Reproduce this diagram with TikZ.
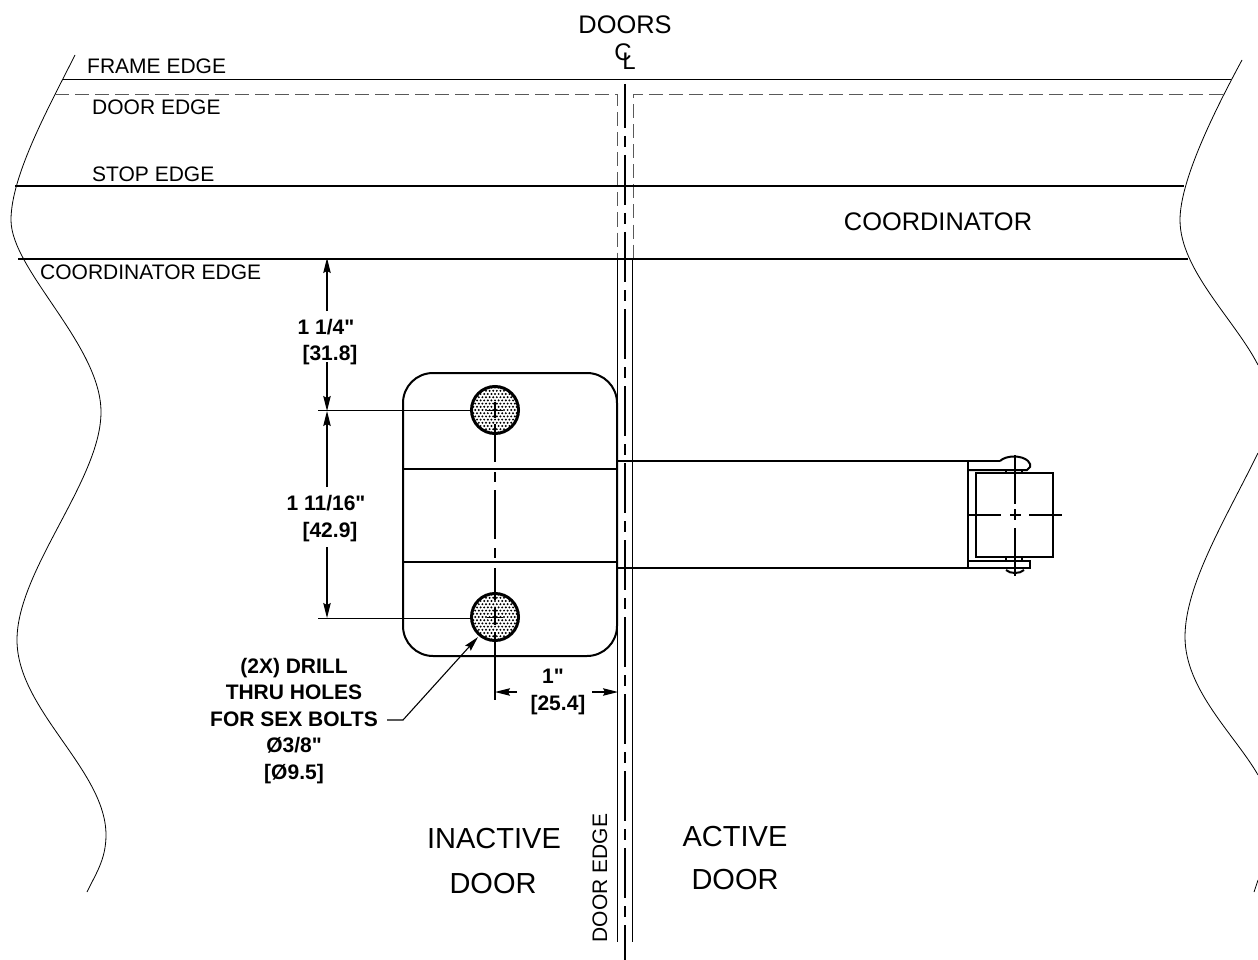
\documentclass[tikz,border=0pt]{standalone}
\usepackage{fontspec}
\setmainfont{Liberation Sans}
\font\dimf="Liberation Sans/B" at 21pt
\usetikzlibrary{arrows.meta}
\tikzset{
 x=1pt,y=-1pt,
 thin line/.style={line width=0.8pt,black},
 med line/.style={line width=1pt,black},
 thick line/.style={line width=2pt,black},
 hidden line/.style={line width=0.8pt,black!65,dash pattern=on 14pt off 6pt},
 solid edge/.style={line width=0.9pt,black},
 center line/.style={line width=1.6pt,black},
 dim line/.style={line width=1.1pt,black,-{Stealth[length=15pt,width=7.5pt,inset=2pt]}},
 lbl/.style={font=\fontsize{21}{23}\selectfont,inner sep=0pt,text=black},
 big/.style={font=\fontsize{29}{31}\selectfont,inner sep=0pt},
 med txt/.style={font=\fontsize{25.4}{27}\selectfont,inner sep=0pt},
 cl txt/.style={font=\fontsize{24}{26}\selectfont,inner sep=0pt},
 dimtxt/.style={font=\fontsize{21}{26.5}\selectfont\dimf,inner sep=0pt,align=center},
}
\begin{document}
\begin{tikzpicture}
\useasboundingbox (0,0) rectangle (1258,960);
\fill[white] (0,0) rectangle (1258,960);
% wavy edges
\draw[thin line] (75,55) .. controls (50,105) and (11,175) .. (11,220) .. controls (11,270) and (101,345) .. (101,412) .. controls (101,480) and (17,570) .. (17,640) .. controls (17,710) and (106,770) .. (106,835) .. controls (106,860) and (95,875) .. (87,892);
\draw[thin line] (1242,60) .. controls (1215,110) and (1180,180) .. (1180,220) .. controls (1180,270) and (1235,320) .. (1258,365);
\draw[thin line] (1258,453) .. controls (1225,520) and (1185,585) .. (1185,637) .. controls (1185,690) and (1235,735) .. (1258,775);
\draw[thin line] (1258,880) -- (1254,892);
% horizontals
\draw[med line] (63,79.5) -- (1231,79.5);
\draw[hidden line] (55,94.5) -- (617,94.5) -- (617,259);
\draw[hidden line] (1223,94.5) -- (633,94.5) -- (633,259);
\draw[solid edge] (617.5,259) -- (617.5,942);
\draw[solid edge] (632.5,259) -- (632.5,942);
\draw[thick line] (15,186) -- (1184,186);
\draw[thick line] (18,259) -- (1188,259);
% door centre
\draw[center line,dash pattern=on 50pt off 8pt on 11pt off 8pt,dash phase=6pt] (625,84) -- (625,960);
% holes
\foreach \y in {410,617}{
  \begin{scope}
    \clip (495,\y) circle (24);
    \fill[white] (495,\y) circle (24);
    \foreach \i in {-7,...,7}{
      \foreach \j in {-7,...,7}{
        \fill[black] ({495+\i*3.6+mod(\j+7,2)*1.8},{\y+\j*3.2}) circle (1.1);
      }
    }
  \end{scope}
  \draw[line width=3pt] (495,\y) circle (23.5);
  \draw[med line] (487,\y) -- (503,\y);
}
% plate
\draw[thick line] (433,373) -- (587,373) arc[start angle=-90,end angle=0,radius=30] -- (617,626) arc[start angle=0,end angle=90,radius=30] -- (433,656) arc[start angle=90,end angle=180,radius=30] -- (403,403) arc[start angle=180,end angle=270,radius=30] -- cycle;
\draw[thick line] (403,469) -- (617,469);
\draw[thick line] (403,562) -- (617,562);
% arm
\draw[thick line] (617,461) -- (1000,461);
\draw[thick line] (617,568) -- (1006,568);
\draw[thick line] (968,461) -- (968,568);
\draw[thick line] (976,473) rectangle (1053,557);
\draw[thick line] (968,470) -- (1027,470) -- (1030,467) -- (1030,464) -- (1028,461) .. controls (1022,455) and (1006,455) .. (1000,461);
\draw[thick line] (968,561) -- (1030,561) -- (1030,568) -- (1006,568);
\draw[thick line] (1006,470) -- (1006,473) (1022,470) -- (1022,473) (1006,557) -- (1006,561) (1022,557) -- (1022,561);
\draw[thick line] (1006,570) .. controls (1010,574) and (1020,574) .. (1024,570);
\draw[center line,dash pattern=on 33pt off 9pt on 11pt off 8pt] (968,515) -- (1063,515);
\draw[center line,dash pattern=on 49pt off 5pt on 11pt off 8pt] (1015,455) -- (1015,576);
% plate centre line
\draw[center line] (495,402) -- (495,418) (495,424) -- (495,462) (495,472) -- (495,482) (495,490) -- (495,539) (495,548) -- (495,558) (495,568) -- (495,600) (495,608) -- (495,625) (495,632) -- (495,700);
% extension lines
\coordinate (hu) at (472,410); \coordinate (hl) at (472,618);
\coordinate (eu) at (318,410); \coordinate (el) at (318,618);
\draw[med line] (eu) -- (hu);
\draw[med line] (el) -- (hl);
% dims
\node[dimtxt] (d1) at (326,342) {1 1/4"\\\hspace*{8pt}[31.8]};
\node[dimtxt] (d2) at (326,518.5) {1 11/16"\\\hspace*{8pt}[42.9]};
\node[dimtxt] (d3) at (553,692) {1"\\\hspace*{10pt}[25.4]};
\coordinate (c1) at (327,258); \coordinate (c2) at (327,411); \coordinate (c3) at (327,618);
\coordinate (s1) at (327,311); \coordinate (s2) at (327,362); \coordinate (s3) at (327,487); \coordinate (s4) at (327,547);
\draw[dim line] (s1) -- (c1);
\draw[dim line] (s2) -- (c2);
\draw[dim line] (s3) -- (c2);
\draw[dim line] (s4) -- (c3);
\coordinate (a1) at (495,692); \coordinate (a2) at (618,692);
\coordinate (b1) at (517,692); \coordinate (b2) at (592,692);
\draw[dim line] (b1) -- (a1);
\draw[dim line] (b2) -- (a2);
\node[dimtxt] (d4) at (294,721) {(2X) DRILL\\THRU HOLES\\FOR SEX BOLTS\\Ø3/8"\\{[Ø9.5]}};
\coordinate (l1) at (387,720); \coordinate (l2) at (403,720); \coordinate (l3) at (478,637);
\draw[dim line] (l1) -- (l2) -- (l3);
% labels
\node[lbl,anchor=west] (t1) at (87,66.5) {FRAME EDGE};
\node[lbl,anchor=west] (t2) at (92,107.5) {DOOR EDGE};
\node[lbl,anchor=west] (t3) at (92,174.5) {STOP EDGE};
\node[lbl,anchor=west] (t4) at (40,272.5) {COORDINATOR EDGE};
\node[med txt] (t5) at (625,25) {DOORS};
\node[cl txt] (t6) at (623,52) {C};
\node[cl txt] (t7) at (629,61.5) {L};
\node[med txt] (t8) at (938,222) {COORDINATOR};
\node[big] (t9) at (494,839) {INACTIVE};
\node[big] (t10) at (493,884) {DOOR};
\node[big] (t11) at (735,837) {ACTIVE};
\node[big] (t12) at (735,880) {DOOR};
\node[lbl,rotate=90] (t13) at (600,878) {DOOR EDGE};
\end{tikzpicture}
\end{document}
